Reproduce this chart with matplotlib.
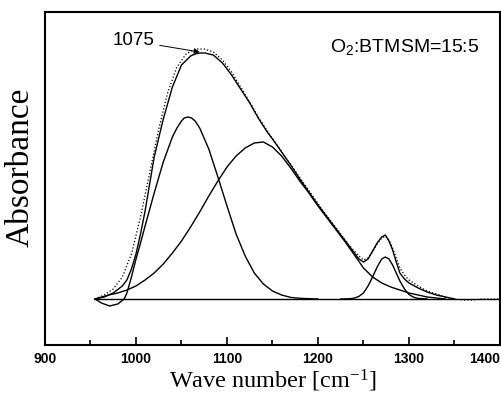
import matplotlib
matplotlib.use("Agg")
import matplotlib.pyplot as plt

plt.rcParams['mathtext.default'] = 'regular'

# measured spectrum (dotted)
meas_x = [955, 965, 975, 985, 995, 1005, 1015, 1025, 1035, 1045, 1055, 1065, 1075, 1085,
          1095, 1105, 1115, 1125, 1135, 1145, 1155, 1165, 1175, 1185, 1195, 1205, 1215,
          1225, 1235, 1245, 1250, 1255, 1260, 1265, 1270, 1274, 1278, 1282, 1286, 1290,
          1295, 1300, 1310, 1320, 1330, 1340, 1350, 1360, 1370, 1380, 1400]
meas_y = [0, 4, 10, 22, 45, 82, 126, 170, 207, 232, 245, 250, 250, 247,
          239, 227, 212, 197, 181, 167, 154, 141, 128, 115, 102, 89, 77,
          65, 53, 43, 39, 41, 47, 55, 61, 63, 59, 51, 41, 31,
          24, 19, 13, 8, 5, 2, 0, -1, -1, 0, 0]

# fitted sum
fit_x = [955, 965, 975, 985, 990, 995, 1000, 1005, 1010, 1015, 1020, 1030, 1040, 1050,
         1060, 1065, 1070, 1076, 1080, 1085, 1095, 1105, 1115, 1125, 1135, 1145, 1150,
         1160, 1170, 1180, 1190, 1200, 1210, 1220, 1230, 1240, 1245, 1250, 1255, 1260,
         1265, 1270, 1274, 1278, 1282, 1286, 1290, 1295, 1300, 1310, 1320, 1330, 1340, 1350]
fit_y = [0, 2, 6, 13, 19, 30, 45, 65, 88, 115, 142, 180, 212, 234,
         243, 245, 246, 246, 245, 244, 236, 224, 210, 196, 180, 166, 160,
         147, 134, 120, 107, 94, 82, 70, 58, 46, 40, 37, 40, 48,
         56, 62, 64, 58, 49, 37, 26, 20, 16, 11, 7, 4, 2, 0]

# component near 1057
p1_x = [955, 962, 971, 980, 987, 990, 995, 1000, 1005, 1010, 1020, 1030, 1040, 1045,
        1050, 1053, 1057, 1061, 1065, 1070, 1080, 1090, 1100, 1110, 1120, 1130, 1140,
        1150, 1160, 1170, 1180, 1190, 1200]
p1_y = [0, -4, -7, -5, 0, 6, 22, 40, 56, 73, 106, 137, 162, 171,
        178, 181, 182, 181, 178, 171, 150, 122, 93, 65, 43, 26, 15,
        8, 4, 1.6, 0.7, 0.3, 0]

# component near 1136
p2_x = [955, 970, 980, 990, 1000, 1010, 1020, 1030, 1040, 1050, 1060, 1070, 1080, 1090,
        1100, 1110, 1120, 1130, 1140, 1150, 1160, 1170, 1180, 1190, 1200, 1210, 1220,
        1230, 1240, 1250, 1260, 1270, 1280, 1290, 1300, 1310, 1320, 1330, 1340]
p2_y = [0, 4, 6, 9, 13, 19, 26, 35, 46, 58, 72, 87, 103, 118,
        132, 143, 151, 156, 157, 152, 143, 131, 118, 106, 93, 81, 69,
        57, 44, 31, 22, 16, 12, 9, 6, 4, 2, 1, 0]

# component near 1274
p3_x = [1225, 1235, 1240, 1245, 1250, 1255, 1260, 1265, 1270, 1274, 1278, 1282, 1286,
        1290, 1295, 1300, 1305, 1310, 1320]
p3_y = [0, 0.3, 0.9, 2.6, 6, 13, 22, 32, 40, 42, 40, 34, 26,
        18, 10, 4.5, 1.8, 0.6, 0]

base_x = [955, 1400]
base_y = [0, 0]

x_ticks = [900, 1000, 1100, 1200, 1300, 1400]
x_minor = [950, 1050, 1150, 1250, 1350]

fig = plt.figure(figsize=(5.01, 3.96), dpi=100)
ax = fig.add_axes([0.0898, 0.1288, 0.9082, 0.8409])

ax.plot(meas_x, meas_y, color='black', linestyle=':', linewidth=0.9)
ax.plot(fit_x, fit_y, color='black', linewidth=1.0)
ax.plot(p1_x, p1_y, color='black', linewidth=1.0)
ax.plot(p2_x, p2_y, color='black', linewidth=1.0)
ax.plot(p3_x, p3_y, color='black', linewidth=1.0)
ax.plot(base_x, base_y, color='black', linewidth=1.0)

ax.annotate('1075', xy=(1070, 247), xytext=(1020, 258),
            ha='right', va='center', fontsize=13.5, family='Liberation Sans',
            arrowprops=dict(arrowstyle='-|>', color='black', lw=0.7,
                            mutation_scale=8, shrinkA=2, shrinkB=0))
ax.text(0.626, 0.895, 'O$_2$:BTMSM=15:5', transform=ax.transAxes,
        ha='left', va='center', fontsize=14, family='Liberation Sans')

ax.set_xlim(900, 1400)
ax.set_ylim(-46, 287)
ax.set_xticks(x_ticks)
ax.set_xticks(x_minor, minor=True)
ax.set_yticks([])
ax.tick_params(axis='x', which='major', direction='in', length=6, width=1.2, pad=5)
ax.tick_params(axis='x', which='minor', direction='in', length=3.5, width=1.2)
for lab in ax.get_xticklabels():
    lab.set_fontweight('bold')
    lab.set_fontsize(10)
    lab.set_family('Liberation Sans')
# last label kept inside the figure
ax.get_xticklabels()[-1].set_horizontalalignment('right')
for s in ax.spines.values():
    s.set_linewidth(1.5)

ax.set_xlabel('Wave number [cm$^{-1}$]', family='Liberation Serif', fontsize=17.5, labelpad=1)
ax.set_ylabel('Absorbance', family='Liberation Serif', fontsize=24)
ax.yaxis.set_label_coords(-0.02, 0.535)

fig.savefig('out.png', dpi=100)
